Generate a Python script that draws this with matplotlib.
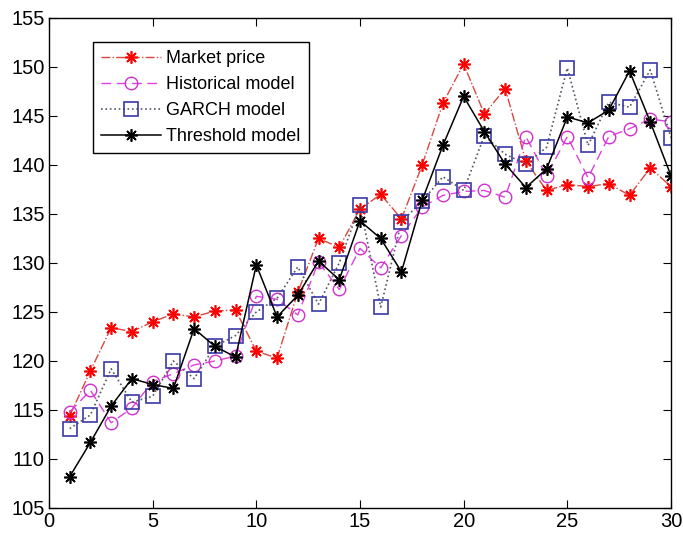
import matplotlib
matplotlib.use("Agg")
import matplotlib.pyplot as plt

plt.rcParams['font.family'] = ['Liberation Sans', 'DejaVu Sans']

days = list(range(1, 31))

market_price = [114.4, 119.0, 123.4, 123.0, 124.0, 124.8, 124.5, 125.1, 125.2, 121.0,
                120.3, 127.0, 132.5, 131.6, 135.5, 137.0, 134.5, 140.0, 146.3, 150.3,
                145.2, 147.8, 140.4, 137.4, 138.0, 137.8, 138.1, 136.9, 139.7, 137.8]
historical = [114.8, 117.0, 113.7, 115.2, 117.9, 118.7, 119.6, 120.0, 120.5, 126.6,
              126.3, 124.7, 130.1, 127.3, 131.5, 129.5, 132.8, 135.7, 136.9, 137.3,
              137.4, 136.7, 142.9, 138.9, 142.9, 138.7, 142.9, 143.7, 144.7, 144.4]
garch = [113.1, 114.5, 119.2, 115.8, 116.4, 120.0, 118.2, 121.5, 122.6, 125.0,
         126.4, 129.6, 125.8, 130.0, 135.9, 125.5, 134.2, 136.3, 138.8, 137.4,
         143.0, 141.1, 140.1, 141.8, 149.9, 142.0, 146.4, 145.9, 149.7, 142.8]
threshold = [108.2, 111.7, 115.4, 118.2, 117.6, 117.2, 123.3, 121.5, 120.4, 129.8,
             124.5, 126.7, 130.2, 128.3, 134.3, 132.5, 129.1, 136.4, 142.0, 147.0,
             143.4, 140.1, 137.7, 139.6, 144.9, 144.3, 145.6, 149.6, 144.4, 138.9]

asterisk = (8, 2, 0)

fig = plt.figure(figsize=(6.83, 5.34), dpi=100)
ax = fig.add_axes([0.0717, 0.0487, 0.9107, 0.9176])

# market price
ax.plot(days, market_price, linestyle='-.', color='#d9473f', lw=1.0,
        marker=asterisk, markersize=9, markeredgecolor='red', markeredgewidth=1.2,
        label='Market price')

# historical model
ax.plot(days, historical, linestyle=(0, (7, 4)), color='#e040e0', lw=1.0,
        marker='o', markersize=9, markerfacecolor='none', markeredgecolor='#d030d0',
        markeredgewidth=1.0, label='Historical model')

# GARCH model
ax.plot(days, garch, linestyle=':', color='#555566', lw=1.2,
        marker='s', markersize=10, markerfacecolor='none', markeredgecolor='#3a3aa8',
        markeredgewidth=1.2, label='GARCH model')

# threshold model
ax.plot(days, threshold, linestyle='-', color='black', lw=1.1,
        marker=asterisk, markersize=9, markeredgecolor='black', markeredgewidth=1.2,
        label='Threshold model')

ax.set_xlim(0, 30)
ax.set_ylim(105, 155)
ax.set_xticks(range(0, 31, 5))
ax.set_yticks(range(105, 156, 5))
ax.tick_params(direction='in', top=True, right=True, labelsize=14.5, length=6, pad=3)
for s in ax.spines.values():
    s.set_linewidth(1.0)

leg = ax.legend(loc='upper left', bbox_to_anchor=(0.0707, 0.951), fontsize=13,
                fancybox=False, edgecolor='black', framealpha=1, borderaxespad=0,
                handlelength=3.3, borderpad=0.45, labelspacing=0.5, handletextpad=0.3)
leg.get_frame().set_linewidth(1.0)

plt.savefig("out.png", dpi=100)
